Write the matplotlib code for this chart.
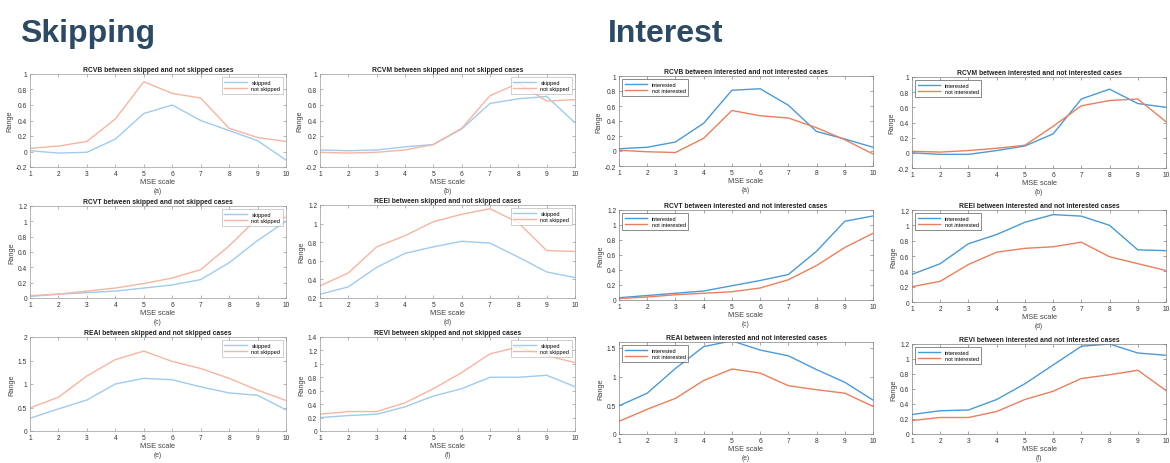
import numpy as np
import matplotlib
matplotlib.use("Agg")
import matplotlib.pyplot as plt
from matplotlib.ticker import FormatStrFormatter, MultipleLocator

plt.rcParams["font.family"] = ["Liberation Sans", "DejaVu Sans"]

scale = list(range(1, 11))
captions = ["(a)", "(b)", "(c)", "(d)", "(e)", "(f)"]
measures = ["RCVB", "RCVM", "RCVT", "REEI", "REAI", "REVI"]

# Skipping group
skipped = [
    [0.01, -0.02, -0.01, 0.16, 0.49, 0.60, 0.40, 0.27, 0.14, -0.11],
    [0.02, 0.01, 0.02, 0.06, 0.09, 0.29, 0.62, 0.68, 0.71, 0.37],
    [0.02, 0.05, 0.07, 0.09, 0.13, 0.17, 0.24, 0.46, 0.75, 1.00],
    [0.24, 0.32, 0.53, 0.68, 0.75, 0.81, 0.79, 0.64, 0.48, 0.42],
    [0.27, 0.47, 0.66, 1.00, 1.12, 1.09, 0.94, 0.81, 0.76, 0.45],
    [0.20, 0.23, 0.25, 0.36, 0.52, 0.63, 0.80, 0.80, 0.83, 0.66],
]
not_skipped = [
    [0.04, 0.07, 0.13, 0.42, 0.90, 0.75, 0.69, 0.30, 0.18, 0.13],
    [-0.01, -0.02, -0.01, 0.02, 0.09, 0.30, 0.72, 0.88, 0.65, 0.67],
    [0.03, 0.05, 0.09, 0.13, 0.19, 0.26, 0.37, 0.68, 1.04, 1.05],
    [0.33, 0.47, 0.75, 0.87, 1.02, 1.10, 1.16, 1.01, 0.71, 0.70],
    [0.49, 0.72, 1.17, 1.52, 1.70, 1.48, 1.33, 1.12, 0.87, 0.65],
    [0.25, 0.29, 0.29, 0.42, 0.63, 0.87, 1.15, 1.25, 1.12, 1.02],
]
skip_ylims = [(-0.2, 1), (-0.2, 1), (0, 1.2), (0.2, 1.2), (0, 2), (0, 1.4)]
skip_ysteps = [0.2, 0.2, 0.2, 0.2, 0.5, 0.2]

# Interest group
interested = [
    [0.03, 0.05, 0.12, 0.37, 0.81, 0.83, 0.61, 0.26, 0.16, 0.05],
    [0.00, -0.02, -0.02, 0.03, 0.09, 0.25, 0.71, 0.84, 0.65, 0.60],
    [0.03, 0.06, 0.09, 0.12, 0.19, 0.26, 0.34, 0.65, 1.05, 1.12],
    [0.36, 0.50, 0.76, 0.88, 1.04, 1.14, 1.12, 1.00, 0.68, 0.67],
    [0.49, 0.71, 1.14, 1.52, 1.62, 1.46, 1.36, 1.12, 0.90, 0.59],
    [0.26, 0.31, 0.32, 0.46, 0.67, 0.92, 1.17, 1.20, 1.08, 1.05],
]
not_interested = [
    [0.01, -0.01, -0.02, 0.17, 0.54, 0.47, 0.44, 0.31, 0.15, -0.04],
    [0.02, 0.01, 0.03, 0.06, 0.10, 0.35, 0.62, 0.69, 0.71, 0.41],
    [0.02, 0.04, 0.07, 0.09, 0.11, 0.16, 0.27, 0.46, 0.70, 0.89],
    [0.20, 0.27, 0.49, 0.65, 0.70, 0.72, 0.78, 0.59, 0.50, 0.41],
    [0.22, 0.43, 0.62, 0.93, 1.13, 1.06, 0.84, 0.77, 0.71, 0.48],
    [0.18, 0.22, 0.22, 0.30, 0.46, 0.57, 0.74, 0.79, 0.85, 0.58],
]
int_ylims = [(-0.2, 1), (-0.2, 1), (0, 1.2), (0, 1.2), (0, 1.6), (0, 1.2)]
int_ysteps = [0.2, 0.2, 0.2, 0.2, 0.5, 0.2]

W, H = 1170, 464
fig = plt.figure(figsize=(W / 100, H / 100), dpi=100)

# pixel boxes: left, top, right, bottom
skip_boxes = [(30, 75, 286, 168), (320, 75, 575, 168),
              (30, 207, 286, 299), (320, 206, 575, 299),
              (30, 338, 286, 432), (320, 338, 575, 432)]
int_boxes = [(619, 77, 873, 167), (912, 78, 1166, 169),
             (619, 211, 873, 301), (912, 211, 1166, 303),
             (619, 343, 873, 435), (912, 345, 1166, 435)]


def make_ax(box):
    l, t, r, b = box
    return fig.add_axes([l / W, 1 - b / H, (r - l) / W, (b - t) / H])


def draw(ax, y1, y2, ylim, ystep, title, cap, labels, colors, loc, edge, axcol):
    ax.plot(scale, y1, color=colors[0], lw=1.0, label=labels[0])
    ax.plot(scale, y2, color=colors[1], lw=1.0, label=labels[1])
    ax.set_xlim(1, 10)
    ax.set_ylim(*ylim)
    ax.set_xticks(scale)
    ax.yaxis.set_major_locator(MultipleLocator(ystep))
    ax.yaxis.set_major_formatter(FormatStrFormatter("%g"))
    ax.tick_params(direction="in", top=True, right=True, length=2, width=0.5,
                   labelsize=4.8, pad=2, colors=axcol, labelcolor="#333333")
    for s in ax.spines.values():
        s.set_color(axcol)
        s.set_linewidth(0.5)
    ax.set_title(title, fontsize=4.9, fontweight="bold", pad=2, color="#222222")
    ax.set_xlabel("MSE scale", fontsize=5.3, labelpad=1, color="#444444")
    ax.set_ylabel("Range", fontsize=5.3, labelpad=2, color="#444444")
    ax.annotate(cap, xy=(0.5, 0), xycoords="axes fraction", xytext=(0, -20),
                textcoords="offset pixels", ha="center", va="top",
                fontsize=4.8, color="#444444")
    leg = ax.legend(loc=loc, fontsize=4.1, handlelength=4, frameon=True,
                    fancybox=False, borderpad=0.4, labelspacing=0.3,
                    borderaxespad=0.6)
    leg.get_frame().set_edgecolor(edge)
    leg.get_frame().set_linewidth(0.5)


for i in range(6):
    ax = make_ax(skip_boxes[i])
    draw(ax, skipped[i], not_skipped[i], skip_ylims[i], skip_ysteps[i],
         measures[i] + " between skipped and not skipped cases", captions[i],
         ["skipped", "not skipped"], ["#9fcbee", "#f6b5a0"], "upper right",
         "#aaaaaa", "#9a9a9a")

for i in range(6):
    ax = make_ax(int_boxes[i])
    draw(ax, interested[i], not_interested[i], int_ylims[i], int_ysteps[i],
         measures[i] + " between interested and not interested cases",
         captions[i], ["interested", "not interested"],
         ["#4b9ad6", "#e8805d"], "upper left", "#333333", "#808080")

fig.text(20 / W, 1 - 34 / H, "Skipping", fontsize=23, fontweight="bold",
         color="#2c4a63", va="center", ha="left")
fig.text(608 / W, 1 - 34 / H, "Interest", fontsize=23, fontweight="bold",
         color="#2c4a63", va="center", ha="left")

fig.savefig("out.png", dpi=100)
